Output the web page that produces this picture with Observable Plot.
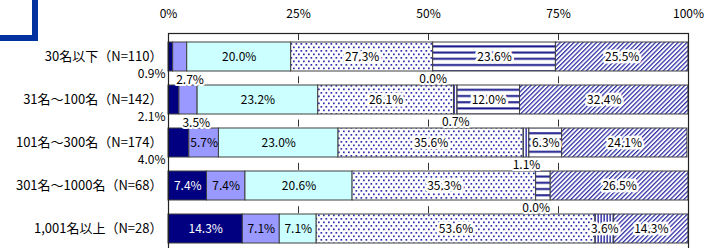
<!DOCTYPE html>
<html><head><meta charset="utf-8">
<script src="https://cdn.jsdelivr.net/npm/d3@7"></script>
<script src="https://cdn.jsdelivr.net/npm/@observablehq/plot@0.6"></script>
<style>
body{margin:0;background:#fff;}
#wrap{position:relative;width:718px;height:248px;overflow:hidden;background:#fff;}
#corner{position:absolute;left:0;top:0;width:32px;height:35px;border-right:6px solid #0033a0;border-bottom:6px solid #0033a0;}
#chart{position:absolute;left:0;top:0;}
</style></head><body>
<div id="wrap"><div id="chart"></div><div id="corner"></div></div>
<script>
const groups = ["30名以下（N=110）", "31名～100名（N=142）", "101名～300名（N=174）", "301名～1000名（N=68）", "1,001名以上（N=28）"];
const seriesKeys = ["navy", "periwinkle", "cyan", "dots", "vstripe", "hstripe", "diagonal"];
const navy       = [0.9, 2.1, 4.0, 7.4, 14.3];
const periwinkle = [2.7, 3.5, 5.7, 7.4, 7.1];
const cyan       = [20.0, 23.2, 23.0, 20.6, 7.1];
const dots       = [27.3, 26.1, 35.6, 35.3, 53.6];
const vstripe    = [0.0, 0.7, 1.1, 0.0, 3.6];
const hstripe    = [23.6, 12.0, 6.3, 2.8, 0.0];
const diagonal   = [25.5, 32.4, 24.1, 26.5, 14.3];
const tickValues = [0, 25, 50, 75, 100];
const tickLabels = ["0%", "25%", "50%", "75%", "100%"];

const seriesValues = {navy, periwinkle, cyan, dots, vstripe, hstripe, diagonal};
const fills = ["#000080", "#9999ff", "#ccffff", "url(#pDots)", "url(#pV)", "url(#pH)", "url(#pDiag)"];
const patterned = new Set(["dots", "vstripe", "hstripe", "diagonal"]);

const rows = [];
groups.forEach((g, i) => {
  let acc = 0;
  seriesKeys.forEach(k => {
    const v = seriesValues[k][i];
    rows.push({group: g, series: k, value: v, x1: acc, x2: acc + v, mid: acc + v / 2, label: v.toFixed(1) + "%"});
    acc += v;
  });
});

const inside = rows.filter(d => d.value >= 5 || (d.series === "vstripe" && d.value >= 3));
const insideSolid = inside.filter(d => !patterned.has(d.series));
const insidePattern = inside.filter(d => patterned.has(d.series));
const belowNavy = rows.filter(d => d.series === "navy" && d.value < 5);
const belowPeri = rows.filter(d => d.series === "periwinkle" && d.value < 5);
const belowV = rows.filter(d => d.series === "vstripe" && d.value < 3);

const font = "'Noto Sans CJK JP', 'Noto Sans', sans-serif";

const svg = Plot.plot({
  width: 718,
  height: 248,
  marginLeft: 168,
  marginRight: 30,
  marginTop: 33,
  marginBottom: -3,
  style: {fontFamily: font, fontSize: "12px", color: "#000", background: "transparent"},
  x: {domain: [0, 100]},
  y: {domain: groups, paddingInner: 0.33, paddingOuter: 0.185, label: null},
  color: {domain: seriesKeys, range: fills},
  marks: [
    Plot.ruleX([25, 50, 75], {stroke: "#333", strokeWidth: 1, strokeDasharray: "7 36.3"}),
    Plot.barX(rows, {x1: "x1", x2: "x2", y: "group", fill: "series", stroke: "#404040", strokeWidth: 1}),
    Plot.frame({stroke: "#222", strokeWidth: 1.2}),
    Plot.axisX({anchor: "top", ticks: tickValues, tickFormat: d => tickLabels[tickValues.indexOf(d)], tickSize: 0, tickPadding: 16, fontSize: 12, label: null}),
    Plot.axisY({tickSize: 0, tickPadding: 6, fontSize: 13, label: null}),
    Plot.text(insideSolid, {x: "mid", y: "group", text: "label", fill: d => d.series === "navy" ? "#fff" : "#000", fontSize: 12}),
    Plot.text(insidePattern, {x: "mid", y: "group", text: "label", fill: "#000", stroke: "#fff", strokeWidth: 5, fontSize: 12}),
    Plot.text(belowNavy, {x: "x1", y: "group", text: "label", textAnchor: "end", dx: -3, dy: 17, fill: "#000", fontSize: 12}),
    Plot.text(belowPeri, {x: "x1", y: "group", text: "label", textAnchor: "start", dx: 3, dy: 23, fill: "#000", stroke: "#fff", strokeWidth: 4, fontSize: 12}),
    Plot.text(belowV, {x: "mid", y: "group", text: "label", dy: 22, fill: "#000", stroke: "#fff", strokeWidth: 4, fontSize: 12})
  ]
});

const defs = d3.select(svg).insert("defs", ":first-child");
const pd = defs.append("pattern").attr("id", "pDots").attr("patternUnits", "userSpaceOnUse").attr("width", 5).attr("height", 7);
pd.append("rect").attr("width", 5).attr("height", 7).attr("fill", "#fff");
pd.append("rect").attr("x", 0.5).attr("y", 1).attr("width", 1.7).attr("height", 1.7).attr("fill", "#2e2eb0");
pd.append("rect").attr("x", 3).attr("y", 4.5).attr("width", 1.7).attr("height", 1.7).attr("fill", "#2e2eb0");
const pv = defs.append("pattern").attr("id", "pV").attr("patternUnits", "userSpaceOnUse").attr("width", 3).attr("height", 4);
pv.append("rect").attr("width", 3).attr("height", 4).attr("fill", "#fff");
pv.append("rect").attr("x", 0.5).attr("width", 1.3).attr("height", 4).attr("fill", "#1a1a99");
const ph = defs.append("pattern").attr("id", "pH").attr("patternUnits", "userSpaceOnUse").attr("width", 4).attr("height", 6.2);
ph.append("rect").attr("width", 4).attr("height", 6.2).attr("fill", "#fff");
ph.append("rect").attr("y", 2).attr("width", 4).attr("height", 2).attr("fill", "#1a1a8c");
const pg = defs.append("pattern").attr("id", "pDiag").attr("patternUnits", "userSpaceOnUse").attr("width", 3.2).attr("height", 4).attr("patternTransform", "rotate(45)");
pg.append("rect").attr("width", 3.2).attr("height", 4).attr("fill", "#fff");
pg.append("rect").attr("width", 1.3).attr("height", 4).attr("fill", "#3333a8");

document.getElementById("chart").appendChild(svg);
</script>
</body></html>
